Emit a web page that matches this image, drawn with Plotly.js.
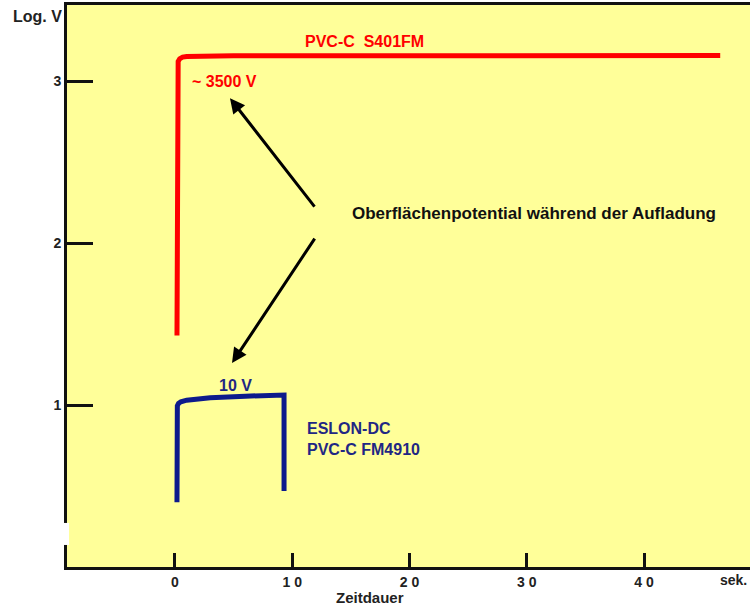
<!DOCTYPE html>
<html><head><meta charset="utf-8">
<script src="https://cdn.plot.ly/plotly-3.0.1.min.js"></script>
<style>body{margin:0;background:#fff}#c{width:750px;height:605px}</style>
</head><body><div id="c"></div>
<script>
// Zeitdauer (sek.) and Log. V values
const redX = [0.17, 0.17, 0.2, 0.27, 0.4, 0.65, 1.0, 2, 5, 20, 46.5];
const redY = [1.43, 3.05, 3.095, 3.122, 3.138, 3.148, 3.152, 3.154, 3.156, 3.157, 3.158];
const blueX = [0.17, 0.17, 0.2, 0.3, 0.5, 1.0, 3, 6, 9.3, 9.3];
const blueY = [0.40, 0.975, 0.995, 1.01, 1.02, 1.03, 1.045, 1.055, 1.062, 0.47];
const xTickVals = [0, 10, 20, 30, 40];
const xTickText = ["0", "1 0", "2 0", "3 0", "4 0"];
const yTickVals = [1, 2, 3];
const yTickText = ["1", "2", "3"];

const F = "Liberation Sans, Arial, sans-serif";
const red = "#ff0000", blue = "#0d1a8c", navyText = "#1f2784";

const traces = [
  {x: redX, y: redY, mode: "lines", line: {color: red, width: 5}, hoverinfo: "skip"},
  {x: blueX, y: blueY, mode: "lines", line: {color: blue, width: 5}, hoverinfo: "skip"}
];

const ann = [
  {x: 16.2, y: 3.247, text: "<b>PVC-C  S401FM</b>", showarrow: false, font: {color: red, size: 16, family: F}},
  {x: 4.18, y: 3.0, text: "<b>~ 3500 V</b>", showarrow: false, font: {color: red, size: 16, family: F}},
  {x: 14.93, y: 2.185, text: "<b>Oberflächenpotential während der Aufladung</b>", xanchor: "left", showarrow: false, font: {color: "#111", size: 17, family: F}},
  {x: 5.12, y: 1.123, text: "<b>10 V</b>", showarrow: false, font: {color: navyText, size: 16, family: F}},
  {x: 11.1, y: 0.858, text: "<b>ESLON-DC</b>", xanchor: "left", showarrow: false, font: {color: navyText, size: 16, family: F}},
  {x: 11.1, y: 0.728, text: "<b>PVC-C FM4910</b>", xanchor: "left", showarrow: false, font: {color: navyText, size: 16, family: F}},
  {x: 4.69, y: 2.895, ax: 12.0, ay: 2.216, axref: "x", ayref: "y", text: "", showarrow: true, arrowhead: 2, arrowsize: 1, arrowwidth: 3, arrowcolor: "#000"},
  {x: 4.86, y: 1.259, ax: 12.0, ay: 2.037, axref: "x", ayref: "y", text: "", showarrow: true, arrowhead: 2, arrowsize: 1, arrowwidth: 3, arrowcolor: "#000"},
  {xref: "paper", yref: "paper", x: -0.082, y: 0.980, xanchor: "left", yanchor: "middle", text: "<b>Log. V</b>", showarrow: false, font: {color: "#222", size: 16, family: F}},
  {x: 16.6, yref: "paper", y: -0.0545, yanchor: "middle", text: "<b>Zeitdauer</b>", showarrow: false, font: {color: "#222", size: 15, family: F}},
  {x: 46.3, yref: "paper", y: -0.024, xanchor: "left", yanchor: "middle", text: "<b>sek.</b>", showarrow: false, font: {color: "#222", size: 14, family: F}}
];

const layout = {
  width: 750, height: 605,
  margin: {l: 67, r: 0, t: 5, b: 38},
  paper_bgcolor: "#ffffff", plot_bgcolor: "#ffff99",
  showlegend: false,
  xaxis: {range: [-9.21, 49.04], showgrid: false, zeroline: false, showline: true, linecolor: "#111", linewidth: 3, mirror: true,
    tickvals: xTickVals, ticktext: xTickText, ticks: "inside", ticklen: 14, tickwidth: 3, tickcolor: "#111",
    tickfont: {family: F, size: 14, color: "#222", weight: "bold"}},
  yaxis: {range: [0, 3.47], showgrid: false, zeroline: false, showline: true, linecolor: "#111", linewidth: 3,
    tickvals: yTickVals, ticktext: yTickText, ticks: "inside", ticklen: 26, tickwidth: 3, tickcolor: "#111",
    tickfont: {family: F, size: 14, color: "#222", weight: "bold"}},
  shapes: [
    {type: "rect", xref: "paper", yref: "y", x0: -0.007, x1: 0.003, y0: 0.136, y1: 0.272, fillcolor: "#ffffff", line: {width: 0}, layer: "above"}
  ],
  annotations: ann
};

Plotly.newPlot("c", traces, layout, {staticPlot: true});
</script></body></html>
